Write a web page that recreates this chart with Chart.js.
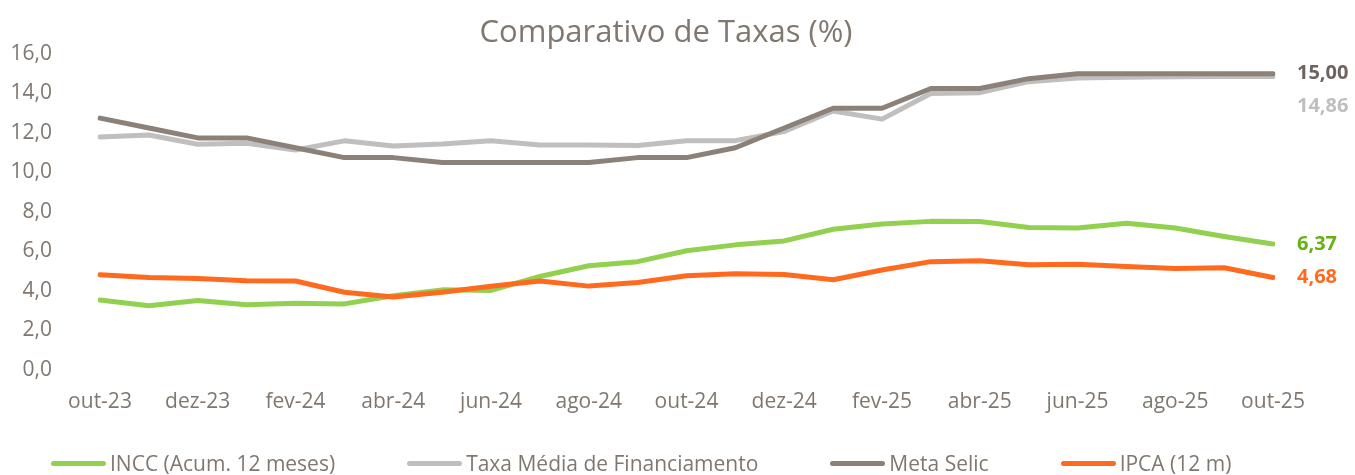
<!DOCTYPE html>
<html>
<head>
<meta charset="utf-8">
<script src="https://cdn.jsdelivr.net/npm/chart.js@4"></script>
<style>
    body { margin: 0; background: #fff; }
    #caja { position: relative; width: 1355px; height: 475px; }
    #titulo {
        position: absolute; left: 466px; width: 400px; top: 10px; text-align: center;
        font-family: 'Open Sans', sans-serif; font-size: 31px; line-height: 40px; color: #80776f;
    }
    #leyenda {
        position: absolute; left: 51px; top: 451px; height: 24px;
        display: flex; align-items: center; gap: 72px;
        font-family: 'Open Sans', sans-serif; font-size: 21px; color: #80776f;
    }
    .item { display: flex; align-items: center; white-space: nowrap; }
    .linea { width: 55px; height: 5px; border-radius: 3px; margin-right: 4px; }
</style>
</head>
<body>
<div id="caja">
    <canvas id="chart" width="1355" height="475"></canvas>
    <div id="titulo">Comparativo de Taxas (%)</div>
    <div id="leyenda"></div>
</div>
<script>
let meses = ['out-23', 'nov-23', 'dez-23', 'jan-24', 'fev-24', 'mar-24', 'abr-24', 'mai-24', 'jun-24',
    'jul-24', 'ago-24', 'set-24', 'out-24', 'nov-24', 'dez-24', 'jan-25', 'fev-25', 'mar-25', 'abr-25',
    'mai-25', 'jun-25', 'jul-25', 'ago-25', 'set-25', 'out-25'];

let incc = [3.54, 3.24, 3.51, 3.29, 3.37, 3.34, 3.75, 4.05, 4.02, 4.73, 5.27, 5.48, 6.03,
    6.33, 6.53, 7.12, 7.39, 7.52, 7.51, 7.21, 7.18, 7.43, 7.18, 6.75, 6.37];
let taxaMedia = [11.8, 11.9, 11.43, 11.48, 11.14, 11.6, 11.34, 11.44, 11.6, 11.39, 11.39, 11.36, 11.61,
    11.61, 12.07, 13.11, 12.7, 14.0, 14.04, 14.6, 14.78, 14.82, 14.85, 14.86, 14.86];
let selic = [12.75, 12.25, 11.75, 11.75, 11.25, 10.75, 10.75, 10.5, 10.5, 10.5, 10.5, 10.75, 10.75,
    11.25, 12.25, 13.25, 13.25, 14.25, 14.25, 14.75, 15, 15, 15, 15, 15];
let ipca = [4.82, 4.68, 4.62, 4.51, 4.50, 3.93, 3.69, 3.93, 4.23, 4.50, 4.24, 4.42, 4.76,
    4.87, 4.83, 4.56, 5.06, 5.48, 5.53, 5.32, 5.35, 5.23, 5.13, 5.17, 4.68];

let ticksY = [0, 2, 4, 6, 8, 10, 12, 14, 16];

let colorTexto = '#80776f';
let fuente = "'Open Sans', sans-serif";

function serie(label, data, color, colorEtiqueta, dy, orden) {
    return {
        label: label,
        data: data,
        borderColor: color,
        backgroundColor: color,
        borderWidth: 5,
        borderCapStyle: 'round',
        borderJoinStyle: 'round',
        pointRadius: 0,
        tension: 0,
        fill: false,
        order: orden,
        colorEtiqueta: colorEtiqueta,
        dyEtiqueta: dy
    };
}

let datos = {
    labels: meses,
    datasets: [
        serie('INCC (Acum. 12 meses)', incc, '#92d050', '#66b010', 0, 3),
        serie('Taxa Média de Financiamento', taxaMedia, '#bfbfbf', '#bfbfbf', 30, 2),
        serie('Meta Selic', selic, '#8b8179', '#6e645d', 0, 1),
        serie('IPCA (12 m)', ipca, '#ff6a1f', '#ff6a1f', 0, 0)
    ]
};

// valor final a la derecha de cada linea
let etiquetasFinales = {
    id: 'etiquetasFinales',
    afterDatasetsDraw(chart) {
        let ctx = chart.ctx;
        ctx.save();
        ctx.font = 'bold 20px ' + fuente;
        ctx.textBaseline = 'middle';
        ctx.textAlign = 'left';
        chart.data.datasets.forEach((ds, i) => {
            let meta = chart.getDatasetMeta(i);
            let p = meta.data[meta.data.length - 1];
            let v = ds.data[ds.data.length - 1];
            ctx.fillStyle = ds.colorEtiqueta;
            ctx.fillText(v.toFixed(2).replace('.', ','), p.x + 24, p.y + ds.dyEtiqueta);
        });
        ctx.restore();
    }
};

let opciones = {
    responsive: false,
    animation: false,
    layout: { padding: { left: 0, right: 82, top: 54, bottom: 40 } },
    plugins: {
        legend: { display: false },
        tooltip: { enabled: false },
        title: { display: false }
    },
    scales: {
        x: {
            grid: { display: false, drawTicks: false },
            border: { display: false },
            ticks: {
                autoSkip: false,
                maxRotation: 0,
                padding: 20,
                color: colorTexto,
                font: { family: fuente, size: 21 },
                callback: function (v, i) { return i % 2 === 0 ? meses[i] : ''; }
            }
        },
        y: {
            min: 0,
            max: 16,
            afterFit: function (scale) {
                scale.width = 100;
                // el padding de los ticks no debe empujar el area hacia abajo
                scale.paddingTop = 0;
                scale.paddingBottom = 0;
            },
            afterBuildTicks: function (scale) { scale.ticks = ticksY.map(v => ({ value: v })); },
            grid: { display: false, drawTicks: false },
            border: { display: false },
            ticks: {
                padding: 48,
                color: colorTexto,
                font: { family: fuente, size: 21 },
                callback: function (v) { return v.toFixed(1).replace('.', ','); }
            }
        }
    }
};

let ctx = document.getElementById('chart');

let miGrafica = new Chart(ctx, {
    type: 'line',
    data: datos,
    options: opciones,
    plugins: [etiquetasFinales]
});

// leyenda en html
let leyenda = document.getElementById('leyenda');
datos.datasets.forEach(ds => {
    let item = document.createElement('div');
    item.className = 'item';
    let linea = document.createElement('span');
    linea.className = 'linea';
    linea.style.background = ds.borderColor;
    let texto = document.createElement('span');
    texto.textContent = ds.label;
    item.appendChild(linea);
    item.appendChild(texto);
    leyenda.appendChild(item);
});
</script>
</body>
</html>
